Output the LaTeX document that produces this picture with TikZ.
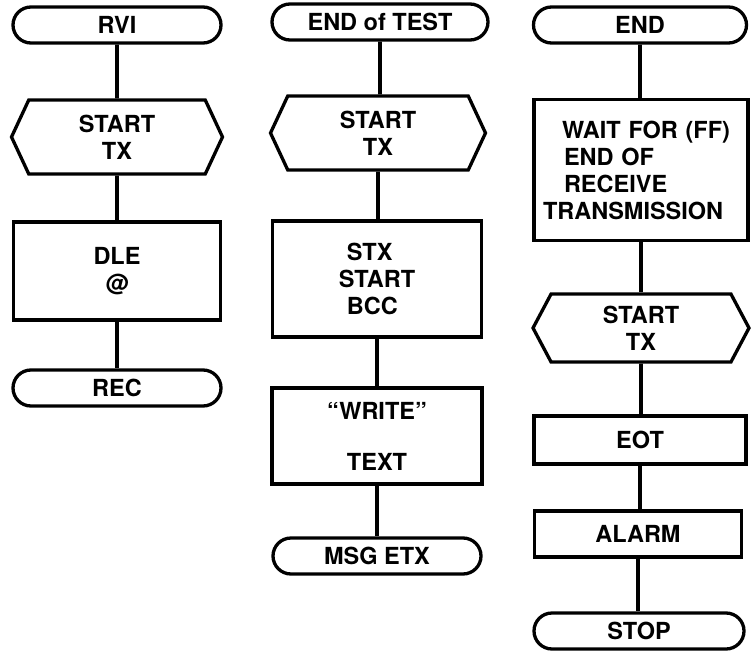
\documentclass[tikz,border=0pt]{standalone}
\usepackage{fontspec}
\setmainfont{TeX Gyre Heros}
\usetikzlibrary{shapes.misc,shapes.symbols}

\begin{document}
\begin{tikzpicture}[x=1pt, y=-1pt,
    every node/.style={font=\fontsize{23.5}{27}\selectfont\bfseries, inner sep=0pt, line width=3.3pt},
    term/.style={draw, rounded rectangle, minimum width=#1, minimum height=36pt},
    hexa/.style={draw, signal, signal to=west and east, signal pointer angle=130, minimum width=#1, minimum height=74pt},
    proc/.style={draw, rectangle, minimum width=#1},
    flow/.style={line width=3.6pt}]

    % Page size
    \useasboundingbox (0, 0) rectangle (751, 655);

    % Left column
    \node[term=208pt] (rvi) at (117, 25) {RVI};
    \node[hexa=211pt, align=center] (startA) at (117, 137) {START\\TX};
    \node[proc=207pt, minimum height=98pt, align=center] (dle) at (117, 271) {DLE\\@};
    \node[term=208pt] (rec) at (117, 388) {REC};

    % Middle column
    \node[term=216pt] (endtest) at (380, 22) {END of TEST};
    \node[hexa=215pt, align=center] (startB) at (378, 133) {START\\TX};
    \node[proc=209pt, minimum height=116pt, align=left] (stx) at (377, 279) {\hspace*{8pt}STX\\START\\\hspace*{8pt}BCC};
    \node[proc=210pt, minimum height=96pt, align=center] (write) at (377, 436) {“WRITE”\\[24pt]TEXT};
    \node[term=208pt] (msg) at (377, 556) {MSG ETX};

    % Right column
    \node[term=213pt] (end) at (640, 25) {END};
    \node[proc=214pt, minimum height=141pt, text width=196pt, align=left] (wait) at (641, 170)
        {\hspace*{19pt}WAIT FOR (FF)\\\hspace*{21pt}END OF\\\hspace*{21pt}RECEIVE\\TRANSMISSION};
    \node[hexa=216pt, align=center, minimum height=68pt, signal pointer angle=124] (startC) at (641, 328) {START\\TX};
    \node[proc=212pt, minimum height=48pt] (eot) at (640, 440) {EOT};
    \node[proc=207pt, minimum height=46pt] (alarm) at (638, 534) {ALARM};
    \node[term=210pt] (stop) at (639, 631) {STOP};

    % Connectors
    \foreach \a/\b in {rvi/startA, startA/dle, dle/rec,
                       endtest/startB, startB/stx, stx/write, write/msg,
                       end/wait, wait/startC, startC/eot, eot/alarm, alarm/stop}
        \draw[flow] (\a) -- (\a |- \b.north);

\end{tikzpicture}
\end{document}
